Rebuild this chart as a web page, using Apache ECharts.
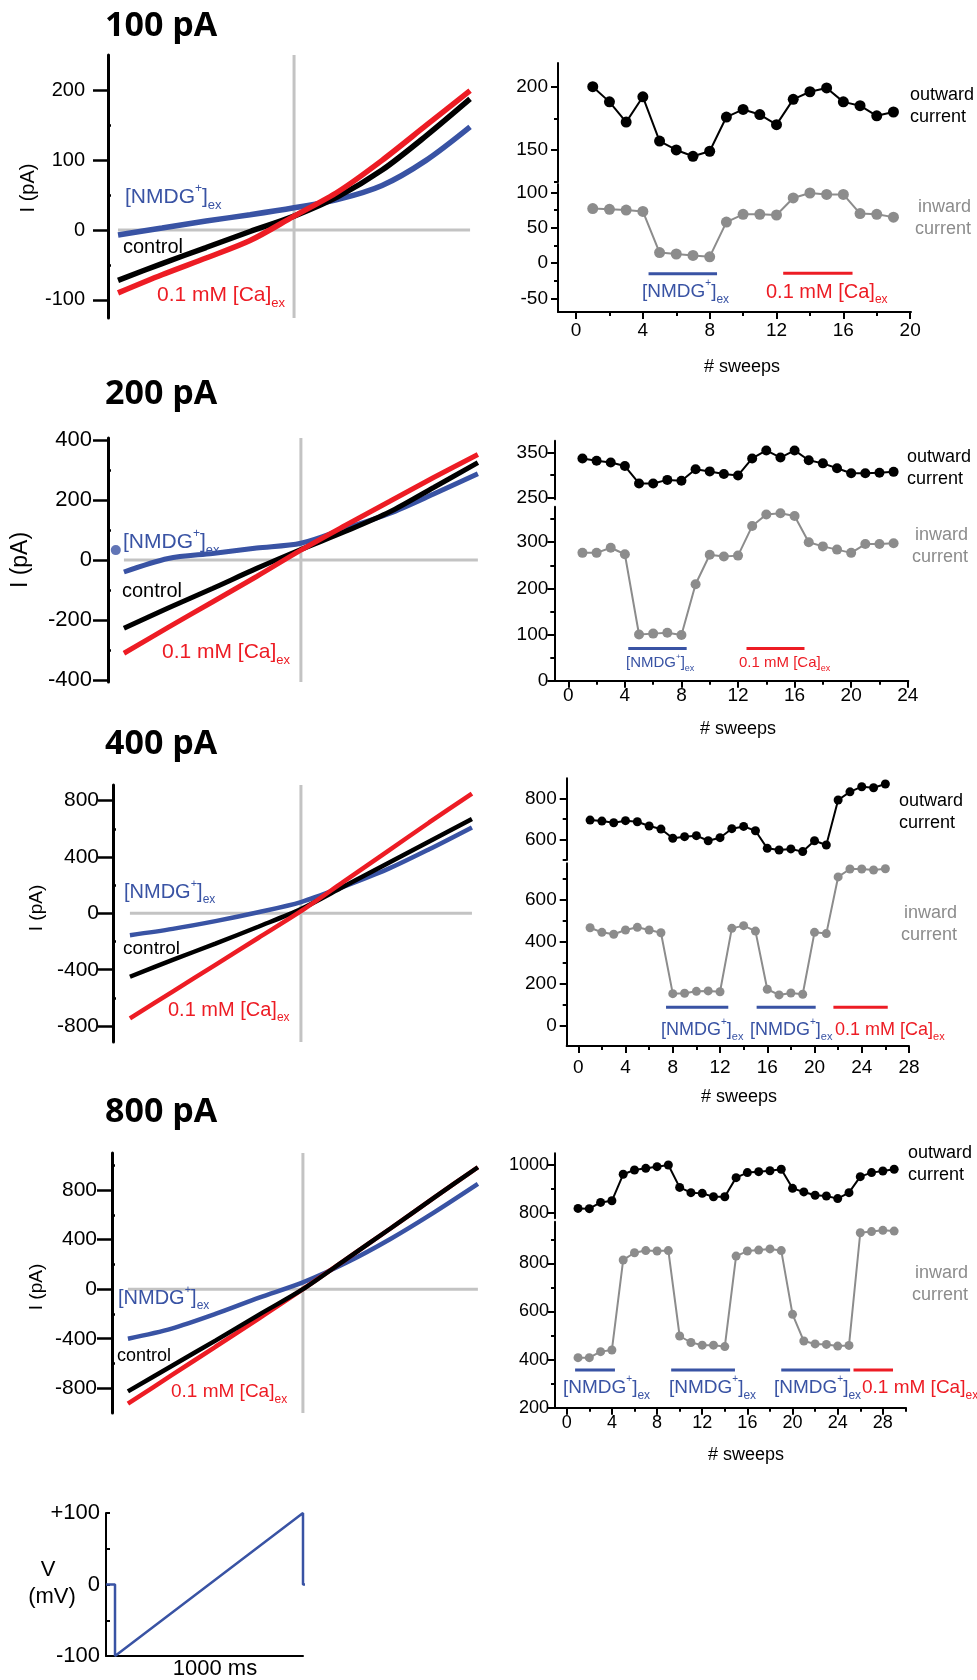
<!DOCTYPE html>
<html>
<head>
<meta charset="utf-8">
<script src="https://cdn.jsdelivr.net/npm/echarts@6/dist/echarts.min.js"></script>
<style>
html, body { margin: 0; padding: 0; background: #fff; }
#chart { width: 977px; height: 1680px; }
</style>
</head>
<body>
<div id="chart"></div>
<script>
// ramp voltages for the I-V traces (mV)
const rampMv = [-100, -75, -50, -25, 0, 25, 50, 75, 100];

// I-V traces, pA
const iv100Nmdg = [-7, 3, 13, 22, 32, 44, 64, 100, 148];
const iv100Control = [-72, -48, -25, -2, 20, 48, 86, 135, 188];
const iv100Ca = [-90, -64, -40, -15, 20, 55, 100, 150, 200];

const iv200Nmdg = [-40, 5, 22, 40, 56, 105, 155, 220, 288];
const iv200Control = [-228, -160, -95, -28, 35, 95, 160, 242, 325];
const iv200Ca = [-311, -225, -140, -55, 33, 115, 195, 275, 352];
const iv200Dot = [[-104.6, 33]];

const iv400Nmdg = [-155, -110, -55, 8, 80, 190, 310, 455, 610];
const iv400Control = [-450, -330, -215, -95, 30, 190, 350, 510, 670];
const iv400Ca = [-745, -555, -365, -175, 15, 225, 435, 645, 850];

const iv800Nmdg = [-400, -318, -200, -68, 55, 215, 405, 620, 850];
const iv800Control = [-825, -620, -415, -205, 0, 245, 490, 740, 985];
const iv800Ca = [-925, -695, -465, -235, 0, 245, 490, 740, 985];

// current per sweep (sweep 1..n)
const out100 = [200, 188, 172, 192, 157, 150, 145, 149, 176, 182, 178, 170, 190, 196, 199, 188, 185, 177, 180];
const in100 = [77, 76, 75, 73, 15, 13, 11, 9, 58, 69, 69, 68, 92, 99, 97, 97, 70, 69, 65];

const out200 = [337, 332, 328, 320, 281, 281, 289, 287, 313, 308, 302, 299, 337, 355, 339, 355, 333, 326, 315, 304, 304, 305, 307];
const in200 = [277, 277, 288, 274, 100, 102, 104, 99, 209, 273, 269, 271, 335, 360, 363, 357, 300, 291, 284, 277, 296, 296, 298];

const out400 = [694, 689, 681, 691, 686, 665, 650, 605, 613, 618, 593, 608, 652, 663, 642, 556, 548, 553, 540, 593, 572, 792, 832, 857, 852, 870];
const in400 = [468, 446, 437, 457, 470, 457, 444, 154, 156, 165, 167, 163, 465, 478, 452, 175, 148, 157, 151, 446, 440, 710, 748, 748, 743, 749];

const out800 = [818, 817, 843, 850, 961, 979, 986, 993, 1000, 906, 884, 881, 867, 867, 947, 968, 972, 976, 982, 902, 887, 873, 870, 859, 884, 951, 968, 975, 982];
const in800 = [408, 408, 433, 440, 814, 844, 853, 851, 853, 498, 471, 460, 460, 454, 830, 851, 855, 860, 853, 588, 477, 465, 463, 456, 459, 927, 932, 937, 934];

// solution changes: [from sweep, to sweep, drawn at current, solution]
const bars100 = [[4.34, 8.44, -15, 'nmdg'], [12.4, 16.55, -14, 'ca']];
const bars200 = [[4.24, 8.37, 70, 'nmdg'], [12.6, 16.7, 70, 'ca']];
const bars400 = [[7.43, 12.7, 89, 'nmdg'], [15.1, 20.1, 89, 'nmdg'], [21.6, 26.2, 89, 'ca']];
const bars800 = [[0.74, 4.27, 357, 'nmdg'], [9.25, 14.9, 357, 'nmdg'], [19.0, 25.1, 357, 'nmdg'], [25.4, 28.9, 357, 'ca']];

// tick values
const ivTicks100 = [-100, 0, 100, 200], ivMinor100 = [-50, 50, 150];
const ivTicks200 = [-400, -200, 0, 200, 400], ivMinor200 = [-300, -100, 100, 300];
const ivTicks400 = [-800, -400, 0, 400, 800], ivMinor400 = [-600, -200, 200, 600];
const ivTicks800 = [-800, -400, 0, 400, 800], ivMinor800 = [-600, -200, 200, 600, 1000];

// voltage protocol
const protoMs = [-47, 0, 0, 1000, 1000, 1040];
const protoMv = [0, 0, -100, 100, 0, 0];
const protoTicks = [-100, 0, 100], protoMinor = [-50, 50];

const FONT = '"Liberation Sans", Arial, Helvetica, sans-serif';
const TITLE_FONT = '"Open Sans", "Liberation Sans", sans-serif';
const BLUE = '#3953a4', RED = '#ed1c24', GRAY = '#8c8c8c', ZERO = '#c3c3c3';

const grids = [], xAxes = [], yAxes = [], series = [], texts = [];

function addGrid(left, top, width, height) {
  grids.push({ left: left, top: top, width: width, height: height });
  return grids.length - 1;
}

function valueAxis(gi, min, max, extra) {
  return Object.assign({
    gridIndex: gi, type: 'value', min: min, max: max,
    splitLine: { show: false },
    axisLine: { show: false, onZero: false },
    axisTick: { show: false },
    axisLabel: { show: false }
  }, extra);
}

function tickedAxis(list, gi, min, max, pos, major, minor, st) {
  list.push(valueAxis(gi, min, max, {
    position: pos,
    axisLine: { show: true, onZero: false, lineStyle: { color: '#000', width: st.lineW } },
    axisTick: { show: true, inside: !!st.inside, length: st.tickLen, customValues: major, lineStyle: { color: '#000', width: st.tickW } },
    axisLabel: { show: true, customValues: major, margin: st.margin, color: '#000', fontSize: st.fontSize, fontFamily: FONT,
      formatter: st.formatter || (v => String(v)) }
  }));
  const idx = list.length - 1;
  if (minor && minor.length) {
    list.push(valueAxis(gi, min, max, {
      position: pos,
      axisTick: { show: true, inside: !!st.minorInside, length: st.minorLen, customValues: minor, lineStyle: { color: '#000', width: st.tickW } }
    }));
  }
  return idx;
}

function addText(x, y, text, o) {
  o = o || {};
  texts.push({
    type: 'text', x: x, y: y, silent: true, z: 100, rotation: o.rot || 0,
    style: {
      text: text, fill: o.color || '#000', fontSize: o.size || 18, fontFamily: o.family || FONT,
      fontWeight: o.weight || 'normal',
      align: o.align || 'left', textAlign: o.align || 'left',
      verticalAlign: 'middle', textVerticalAlign: 'middle',
      rich: o.rich
    }
  });
}

function richParts(fs, color) {
  return {
    m: { fontSize: fs, fontFamily: FONT, fill: color, color: color, lineHeight: Math.round(fs * 1.4) },
    p: { fontSize: Math.round(fs * 0.55), fontFamily: FONT, fill: color, color: color, verticalAlign: 'top', lineHeight: Math.round(fs * 0.62) },
    s: { fontSize: Math.round(fs * 0.62), fontFamily: FONT, fill: color, color: color, verticalAlign: 'bottom', lineHeight: Math.round(fs * 0.62) }
  };
}
function nmdgLabel(x, y, fs) {
  addText(x, y, '{m|[NMDG}{p|+}{m|]}{s|ex}', { rich: richParts(fs, BLUE), size: fs });
}
function caLabel(x, y, fs) {
  addText(x, y, '{m|0.1 mM [Ca]}{s|ex}', { rich: richParts(fs, RED), size: fs });
}

// ---------- I-V panels ----------
function ivPanel(g, traces) {
  const gi = addGrid(g.left, g.top, g.width, g.height);
  xAxes.push(valueAxis(gi, g.xMin, g.xMax));
  const xi = xAxes.length - 1;
  const yi = tickedAxis(yAxes, gi, g.yMin, g.yMax, 'left', g.major, g.minor,
    { lineW: 3, tickLen: 15, tickW: 2.5, margin: g.margin, fontSize: g.fontSize, minorLen: 3, minorInside: true });
  series.push({ type: 'line', xAxisIndex: xi, yAxisIndex: yi, data: [[0, g.yMin], [0, g.yMax]],
    symbol: 'none', silent: true, z: 1, lineStyle: { color: ZERO, width: 3 } });
  series.push({ type: 'line', xAxisIndex: xi, yAxisIndex: yi,
    data: [[rampMv[0], 0], [rampMv[rampMv.length - 1], 0]],
    symbol: 'none', silent: true, z: 1, lineStyle: { color: ZERO, width: 3 } });
  traces.forEach(t => {
    series.push({ type: 'line', xAxisIndex: xi, yAxisIndex: yi, z: 2,
      data: rampMv.map((v, i) => [v, t.values[i]]), symbol: 'none', smooth: 0.3,
      lineStyle: { color: t.color, width: g.traceW } });
  });
  return { xi: xi, yi: yi };
}

ivPanel({ left: 108, top: 55, width: 364, height: 263, xMin: -105.7, xMax: 101.1, yMin: -126, yMax: 251,
  major: ivTicks100, minor: ivMinor100, margin: 23, fontSize: 20, traceW: 5.5 },
  [{ values: iv100Nmdg, color: BLUE }, { values: iv100Control, color: '#000' }, { values: iv100Ca, color: RED }]);

const p2 = ivPanel({ left: 108, top: 438, width: 372, height: 244, xMin: -109, xMax: 101.2, yMin: -407, yMax: 407,
  major: ivTicks200, minor: ivMinor200, margin: 16, fontSize: 22, traceW: 5 },
  [{ values: iv200Nmdg, color: BLUE }, { values: iv200Control, color: '#000' }, { values: iv200Ca, color: RED }]);
series.push({ type: 'scatter', xAxisIndex: p2.xi, yAxisIndex: p2.yi, data: iv200Dot, symbolSize: 10,
  itemStyle: { color: BLUE }, clip: false });

ivPanel({ left: 113, top: 785, width: 361, height: 257, xMin: -109.9, xMax: 101.2, yMin: -913, yMax: 911,
  major: ivTicks400, minor: ivMinor400, margin: 14, fontSize: 21, traceW: 4.5 },
  [{ values: iv400Nmdg, color: BLUE }, { values: iv400Control, color: '#000' }, { values: iv400Ca, color: RED }]);

ivPanel({ left: 112, top: 1153, width: 368, height: 260, xMin: -109.1, xMax: 101.2, yMin: -1000, yMax: 1100,
  major: ivTicks800, minor: ivMinor800, margin: 15, fontSize: 21, traceW: 4.5 },
  [{ values: iv800Nmdg, color: BLUE }, { values: iv800Ca, color: RED }, { values: iv800Control, color: '#000' }]);

// ---------- sweep panels (broken y axis) ----------
function sweepPanel(p, out, inw, bars) {
  const gU = addGrid(p.left, p.upTop, p.width, p.upH);
  const gL = addGrid(p.left, p.lowTop, p.width, p.lowH);
  xAxes.push(valueAxis(gU, p.xMin, p.xMax));
  const xU = xAxes.length - 1;
  const ySt = { lineW: 2, tickLen: 7, tickW: 2, margin: p.yMargin, fontSize: p.fontSize, minorLen: 4 };
  const yU = tickedAxis(yAxes, gU, p.upMin, p.upMax, 'left', p.upMajor, p.upMinor, ySt);
  const xL = tickedAxis(xAxes, gL, p.xMin, p.xMax, 'bottom', p.xMajor, p.xMinor,
    { lineW: 2, tickLen: 7, tickW: 2, margin: p.xMargin, fontSize: p.fontSize, minorLen: 4 });
  const yL = tickedAxis(yAxes, gL, p.lowMin, p.lowMax, 'left', p.lowMajor, p.lowMinor, ySt);
  series.push({ type: 'line', xAxisIndex: xU, yAxisIndex: yU, data: out.map((v, i) => [i + 1, v]),
    symbol: 'circle', symbolSize: p.dot, itemStyle: { color: '#000' }, lineStyle: { color: '#000', width: 2 } });
  series.push({ type: 'line', xAxisIndex: xL, yAxisIndex: yL, data: inw.map((v, i) => [i + 1, v]),
    symbol: 'circle', symbolSize: p.dot, itemStyle: { color: GRAY }, lineStyle: { color: GRAY, width: 2 } });
  bars.forEach(b => {
    series.push({ type: 'line', xAxisIndex: xL, yAxisIndex: yL, data: [[b[0], b[2]], [b[1], b[2]]],
      symbol: 'none', lineStyle: { color: b[3] === 'ca' ? RED : BLUE, width: 3 } });
  });
}

sweepPanel({ left: 558, width: 353, xMin: -1.08, xMax: 20.05,
  upTop: 63, upH: 119, upMin: 124.7, upMax: 218.7, upMajor: [150, 200], upMinor: [125, 175],
  lowTop: 184, lowH: 128, lowMin: -68.75, lowMax: 111.7, lowMajor: [-50, 0, 50, 100], lowMinor: [-25, 25, 75],
  xMajor: [0, 4, 8, 12, 16, 20], xMinor: [2, 6, 10, 14, 18], yMargin: 10, xMargin: 9, fontSize: 19, dot: 11 },
  out100, in100, bars100);

sweepPanel({ left: 554.3, width: 354, xMin: -0.99, xMax: 24.04,
  upTop: 440.7, upH: 58.6, upMin: 245.5, upMax: 376.8, upMajor: [250, 350], upMinor: [300],
  lowTop: 506.7, lowH: 174, lowMin: 0, lowMax: 377, lowMajor: [0, 100, 200, 300], lowMinor: [50, 150, 250, 350],
  xMajor: [0, 4, 8, 12, 16, 20, 24], xMinor: [2, 6, 10, 14, 18, 22], yMargin: 6, xMargin: 6, fontSize: 19, dot: 10 },
  out200, in200, bars200);

sweepPanel({ left: 566.7, width: 342.3, xMin: -0.98, xMax: 28,
  upTop: 778.3, upH: 81.7, upMin: 499, upMax: 898, upMajor: [600, 800], upMinor: [500, 700],
  lowTop: 863.3, lowH: 182.7, lowMin: -95.5, lowMax: 775, lowMajor: [0, 200, 400, 600], lowMinor: [100, 300, 500, 700],
  xMajor: [0, 4, 8, 12, 16, 20, 24, 28], xMinor: [2, 6, 10, 14, 18, 22, 26], yMargin: 10, xMargin: 12, fontSize: 19, dot: 9 },
  out400, in400, bars400);

sweepPanel({ left: 555, width: 351, xMin: -1.04, xMax: 30.05,
  upTop: 1153.3, upH: 65, upMin: 776.5, upMax: 1049, upMajor: [800, 1000], upMinor: [900],
  lowTop: 1221.7, lowH: 186, lowMin: 200, lowMax: 973, lowMajor: [200, 400, 600, 800], lowMinor: [300, 500, 700, 900],
  xMajor: [0, 4, 8, 12, 16, 20, 24, 28], xMinor: [2, 6, 10, 14, 18, 22, 26, 30], yMargin: 6, xMargin: 6, fontSize: 18, dot: 9 },
  out800, in800, bars800);

// ---------- voltage protocol ----------
(function () {
  const gi = addGrid(106, 1513, 197, 143);
  xAxes.push(valueAxis(gi, -47.9, 1000, {
    position: 'bottom',
    axisLine: { show: true, onZero: false, lineStyle: { color: '#000', width: 2 } }
  }));
  const xi = xAxes.length - 1;
  const yi = tickedAxis(yAxes, gi, -100, 100, 'left', protoTicks, protoMinor,
    { lineW: 2, tickLen: 4, tickW: 2, inside: true, minorInside: true, minorLen: 4, margin: 6, fontSize: 22,
      formatter: v => (v > 0 ? '+' + v : String(v)) });
  series.push({ type: 'line', xAxisIndex: xi, yAxisIndex: yi, clip: false,
    data: protoMs.map((t, i) => [t, protoMv[i]]), symbol: 'none', lineStyle: { color: BLUE, width: 2.5 } });
})();

// ---------- text ----------
[['100 pA', 26], ['200 pA', 394], ['400 pA', 744], ['800 pA', 1112]].forEach(t => {
  addText(105, t[1], t[0], { size: 34, family: TITLE_FONT, weight: 'bold' });
});
[[28, 188, 20], [21, 560, 23], [37, 908, 19], [37, 1287, 19]].forEach(t => {
  addText(t[0], t[1], 'I (pA)', { size: t[2], align: 'center', rot: Math.PI / 2 });
});

nmdgLabel(125, 197, 21); addText(123, 247, 'control', { size: 20 }); caLabel(157, 295, 21);
nmdgLabel(123, 542, 21); addText(122, 591, 'control', { size: 20 }); caLabel(162, 652, 21);
nmdgLabel(124, 892, 20); addText(123, 949, 'control', { size: 19 }); caLabel(168, 1010, 20);
nmdgLabel(118, 1298, 20); addText(117, 1356, 'control', { size: 18 }); caLabel(171, 1392, 19);

nmdgLabel(642, 292, 19); caLabel(766, 292, 20);
nmdgLabel(626, 663, 15); caLabel(739, 663, 15);
nmdgLabel(661, 1030, 18); nmdgLabel(750, 1030, 18); caLabel(835, 1030, 18);
nmdgLabel(563, 1388, 19); nmdgLabel(669, 1388, 19); nmdgLabel(774, 1388, 19); caLabel(862, 1388, 19);

[[910, 95, 971, 207], [907, 457, 968, 535], [899, 801, 957, 913], [908, 1153, 968, 1273]].forEach(r => {
  addText(r[0], r[1], 'outward', { size: 18 });
  addText(r[0], r[1] + 22, 'current', { size: 18 });
  addText(r[2], r[3], 'inward', { size: 18, color: GRAY, align: 'right' });
  addText(r[2], r[3] + 22, 'current', { size: 18, color: GRAY, align: 'right' });
});
[[742, 367], [738, 729], [739, 1097], [746, 1455]].forEach(p => {
  addText(p[0], p[1], '# sweeps', { size: 18, align: 'center' });
});

addText(48, 1570, 'V', { size: 22, align: 'center' });
addText(52, 1597, '(mV)', { size: 22, align: 'center' });
addText(215, 1669, '1000 ms', { size: 22, align: 'center' });

const chart = echarts.init(document.getElementById('chart'), null, { renderer: 'canvas' });
chart.setOption({
  animation: false,
  backgroundColor: '#fff',
  grid: grids,
  xAxis: xAxes,
  yAxis: yAxes,
  series: series,
  graphic: { elements: texts }
});
</script>
</body>
</html>
